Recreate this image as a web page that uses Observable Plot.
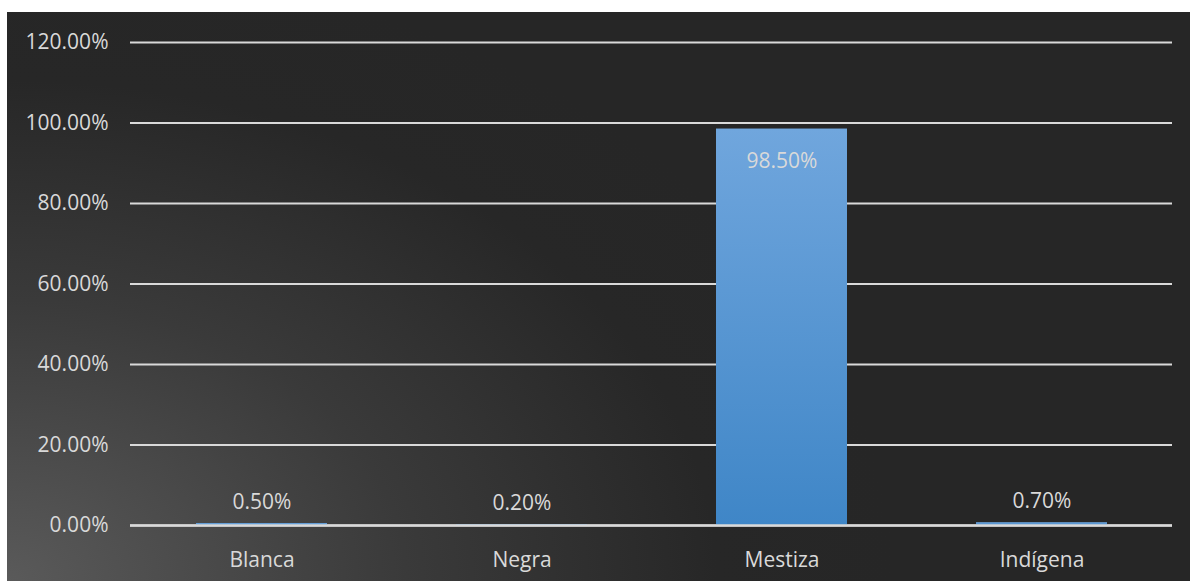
<!DOCTYPE html>
<html>
<head>
<meta charset="utf-8">
<script src="https://cdn.jsdelivr.net/npm/d3@7"></script>
<script src="https://cdn.jsdelivr.net/npm/@observablehq/plot@0.6"></script>
<style>
  html, body { margin: 0; padding: 0; background: #ffffff; }
  #panel {
    position: absolute; left: 7px; top: 12px; width: 1183px; height: 569px;
    background: radial-gradient(ellipse 75% 110% at 0% 100%, #5a5a5a 0%, #3a3a3a 45%, #272727 80%, #262626 100%);
    overflow: hidden;
  }
  #panel svg { display: block; }
</style>
</head>
<body>
<div id="panel"></div>
<script>
const categories = ["Blanca", "Negra", "Mestiza", "Indígena"];
const values = [0.005, 0.002, 0.985, 0.007];
const yTicks = [0, 0.2, 0.4, 0.6, 0.8, 1.0, 1.2];

const data = categories.map((c, i) => ({category: c, value: values[i]}));
const fmt = d => (d * 100).toFixed(2) + "%";
const font = "'Open Sans', 'Noto Sans', sans-serif";

const chart = Plot.plot({
  width: 1183,
  height: 569,
  marginLeft: 123,
  marginRight: 18,
  marginTop: 30,
  marginBottom: 56,
  style: {background: "transparent", color: "#d9d9d9", fontFamily: font, fontSize: "21px"},
  x: {domain: categories, paddingInner: 0.497, paddingOuter: 0.2485, label: null},
  y: {domain: [0, 1.2], label: null},
  marks: [
    Plot.ruleY(yTicks, {stroke: "#d9d9d9", strokeWidth: 2}),
    Plot.barY(data, {x: "category", y: "value", fill: "url(#barGrad)"}),
    Plot.ruleY([0], {stroke: "#d9d9d9", strokeWidth: 2.5}),
    Plot.axisY({ticks: yTicks, tickFormat: fmt, tickSize: 0, tickPadding: 22, fontSize: 21, fill: "#d9d9d9"}),
    Plot.axisX({tickSize: 0, tickPadding: 27, fontSize: 21, fill: "#d9d9d9"}),
    Plot.text(data.filter(d => d.value < 0.5), {x: "category", y: "value", text: d => fmt(d.value), dy: -21, fill: "#d9d9d9", fontSize: 21}),
    Plot.text(data.filter(d => d.value >= 0.5), {x: "category", y: "value", text: d => fmt(d.value), dy: 32, fill: "#d9d9d9", fontSize: 21})
  ]
});

const ns = "http://www.w3.org/2000/svg";
const defs = document.createElementNS(ns, "defs");
defs.innerHTML = `<linearGradient id="barGrad" x1="0" y1="0" x2="0" y2="1">
  <stop offset="0%" stop-color="#70a6dd"/>
  <stop offset="100%" stop-color="#3f86c7"/>
</linearGradient>`;
chart.insertBefore(defs, chart.firstChild);
document.getElementById("panel").appendChild(chart);
</script>
</body>
</html>
